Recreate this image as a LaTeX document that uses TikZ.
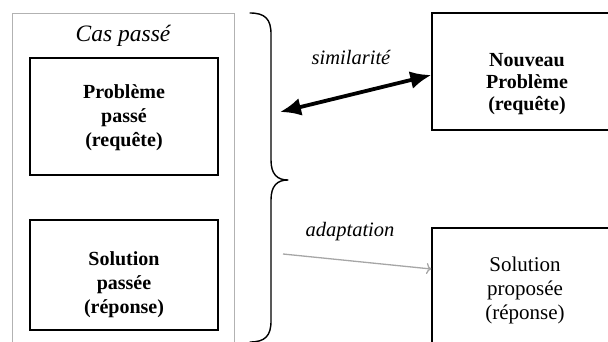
\documentclass[tikz,border=0pt]{standalone}
\usepackage{fontspec}
\setmainfont{Liberation Serif}
\usetikzlibrary{arrows.meta}
\begin{document}
\begin{tikzpicture}[x=1pt,y=-1pt,
  frame/.style={draw, line width=1.3pt, rectangle, inner sep=0pt},
  boldtxt/.style={align=center, inner sep=0pt, font=\fontsize{20}{24}\selectfont\bfseries},
  plaintxt/.style={align=center, inner sep=0pt, font=\fontsize{21}{24}\selectfont},
  itlabel/.style={inner sep=0pt, font=\fontsize{20.5}{24}\selectfont\itshape},
  bracestyle/.style={line width=1.4pt, line cap=round, line join=round},
  simarrow/.style={line width=3.8pt, {Latex[length=21pt,width=18pt]}-{Latex[length=21pt,width=18pt]}},
  adaptarrow/.style={line width=1.3pt, draw=gray!70, -{To[length=5pt,width=11pt]}}]
\useasboundingbox (0,0) rectangle (608,342);

% the stored case, framed in grey
\node[frame, draw=gray!60, line width=1pt, minimum width=222pt, minimum height=342pt] (cas) at (123,185) {};
\node[inner sep=0pt, font=\fontsize{23.5}{26}\selectfont\itshape] (castitle) at (123,36) {Cas passé};

% past problem and past solution
\node[frame, minimum width=188pt, minimum height=117pt] (ppasse) at (124,116.5) {};
\node[boldtxt] (ppassetxt) at (124,118) {Problème\\passé\\(requête)};
\node[frame, minimum width=188pt, minimum height=110pt] (spasse) at (124,275) {};
\node[boldtxt] (spassetxt) at (124,285) {Solution\\passée\\(réponse)};

% curly brace gathering the case
\draw[bracestyle] (250,13) .. controls (265,13) and (271,19) .. (271,34)
  -- (271,160) .. controls (271,174) and (277,180) .. (288,180)
  .. controls (277,180) and (271,186) .. (271,200)
  -- (271,321) .. controls (271,336) and (265,342) .. (250,342);

% new problem and proposed solution
\node[frame, minimum width=190pt, minimum height=117pt] (nouveau) at (527,71.5) {};
\node[boldtxt, font=\fontsize{20}{22}\selectfont\bfseries] (nouveautxt) at (527,84) {Nouveau\\Problème\\(requête)};
\node[frame, minimum width=186pt, minimum height=124pt] (proposee) at (525,290) {};
\node[plaintxt] (proposeetxt) at (525,290) {Solution\\proposée\\(réponse)};

% relations
\coordinate (simL) at (280,112);
\coordinate (adaptL) at (283,254);
\draw[simarrow] (simL) -- ([yshift=-3.5pt]nouveau.west);
\draw[adaptarrow] (adaptL) -- ([yshift=21pt]proposee.west);
\node[itlabel] (simlabel) at (351,57) {similarité};
\node[itlabel] (adaptlabel) at (350,232) {adaptation};
\end{tikzpicture}
\end{document}
